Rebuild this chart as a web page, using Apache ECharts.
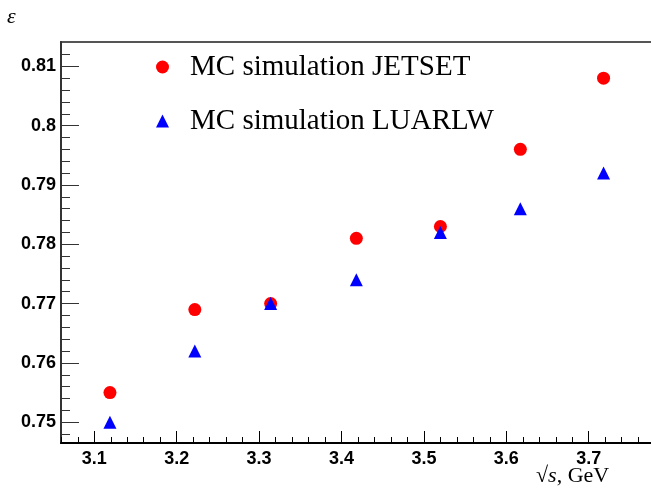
<!DOCTYPE html>
<html>
<head>
<meta charset="utf-8">
<script src="https://cdn.jsdelivr.net/npm/echarts@6/dist/echarts.min.js"></script>
<style>
html,body{margin:0;padding:0;background:#fff;overflow:hidden;}
#chart{width:666px;height:489px;}
</style>
</head>
<body>
<div id="chart"></div>
<script>
// energies (GeV)
var energy = [3.119, 3.222, 3.314, 3.418, 3.520, 3.617, 3.718];
var effJetset = [0.755, 0.769, 0.770, 0.781, 0.783, 0.796, 0.808];
var effLuarlw = [0.750, 0.762, 0.770, 0.774, 0.782, 0.786, 0.792];
var xMajor = [3.1, 3.2, 3.3, 3.4, 3.5, 3.6, 3.7];
var xMinor = [3.06, 3.08, 3.12, 3.14, 3.16, 3.18, 3.22, 3.24, 3.26, 3.28, 3.32, 3.34, 3.36, 3.38,
    3.42, 3.44, 3.46, 3.48, 3.52, 3.54, 3.56, 3.58, 3.62, 3.64, 3.66, 3.68, 3.72, 3.74, 3.76, 3.78];
var yMajor = [0.75, 0.76, 0.77, 0.78, 0.79, 0.8, 0.81];
var yMinor = [0.748, 0.752, 0.754, 0.756, 0.758, 0.762, 0.764, 0.766, 0.768, 0.772, 0.774, 0.776, 0.778,
    0.782, 0.784, 0.786, 0.788, 0.792, 0.794, 0.796, 0.798, 0.802, 0.804, 0.806, 0.808, 0.812];

var xMin = 3.0596, xMax = 3.7877;
var yMin = 0.7465, yMax = 0.8141;

function pairs(xs, ys){
    var out = [];
    for (var i = 0; i < xs.length; i++) out.push([xs[i], ys[i]]);
    return out;
}

var labelFont = {fontFamily: 'Liberation Sans', fontWeight: 'bold', fontSize: 18, color: '#000'};

// plot frame runs past the right edge of the 651px window, as in the original
var chart = echarts.init(document.getElementById('chart'));
chart.setOption({
    animation: false,
    grid: {left: 61, right: 5, top: 42, bottom: 46, show: true, borderColor: '#555', borderWidth: 2, backgroundColor: 'transparent'},
    xAxis: [{
        type: 'value', min: xMin, max: xMax, position: 'bottom',
        axisLine: {lineStyle: {color: '#000', width: 2}},
        axisTick: {inside: true, length: 12, customValues: xMajor, lineStyle: {color: '#000', width: 1}},
        axisLabel: Object.assign({margin: 7, customValues: xMajor, formatter: function(v){return v.toFixed(1);}}, labelFont),
        splitLine: {show: false}
    }, {
        type: 'value', min: xMin, max: xMax, position: 'bottom',
        axisLine: {show: false},
        axisTick: {inside: true, length: 6, customValues: xMinor, lineStyle: {color: '#000', width: 1}},
        axisLabel: {show: false},
        splitLine: {show: false}
    }],
    yAxis: [{
        type: 'value', min: yMin, max: yMax, position: 'left',
        axisLine: {show: true, lineStyle: {color: '#333', width: 2}},
        axisTick: {inside: true, length: 18, customValues: yMajor, lineStyle: {color: '#333', width: 1}},
        axisLabel: Object.assign({margin: 5, customValues: yMajor, formatter: function(v){return String(+v.toFixed(2));}}, labelFont),
        splitLine: {show: false}
    }, {
        type: 'value', min: yMin, max: yMax, position: 'left',
        axisLine: {show: false},
        axisTick: {inside: true, length: 9, customValues: yMinor, lineStyle: {color: '#333', width: 1}},
        axisLabel: {show: false},
        splitLine: {show: false}
    }],
    legend: {
        orient: 'vertical', left: 156, top: 52, itemGap: 24, padding: 0,
        itemWidth: 13, itemHeight: 13,
        textStyle: {fontFamily: 'Liberation Serif', fontSize: 29, lineHeight: 30, color: '#000', padding: [0, 0, 0, 16]},
        data: [{name: 'MC simulation JETSET', icon: 'circle'}, {name: 'MC simulation LUARLW', icon: 'triangle'}]
    },
    graphic: [
        {type: 'text', left: 7, top: 6, style: {text: 'ε', font: 'italic 22px "Liberation Serif"', fill: '#000'}},
        {type: 'text', left: 536, top: 465, style: {
            text: '√{i|s}, GeV',
            font: '22px "Liberation Serif"', fill: '#000',
            rich: {i: {fontStyle: 'italic', fontFamily: 'Liberation Serif', fontSize: 22}}
        }}
    ],
    series: [{
        name: 'MC simulation JETSET', type: 'scatter', symbol: 'circle', symbolSize: 13,
        itemStyle: {color: '#ff0000', opacity: 1},
        data: pairs(energy, effJetset)
    }, {
        name: 'MC simulation LUARLW', type: 'scatter', symbol: 'triangle', symbolSize: 13,
        itemStyle: {color: '#0000ff', opacity: 1},
        data: pairs(energy, effLuarlw)
    }]
});
</script>
</body>
</html>
